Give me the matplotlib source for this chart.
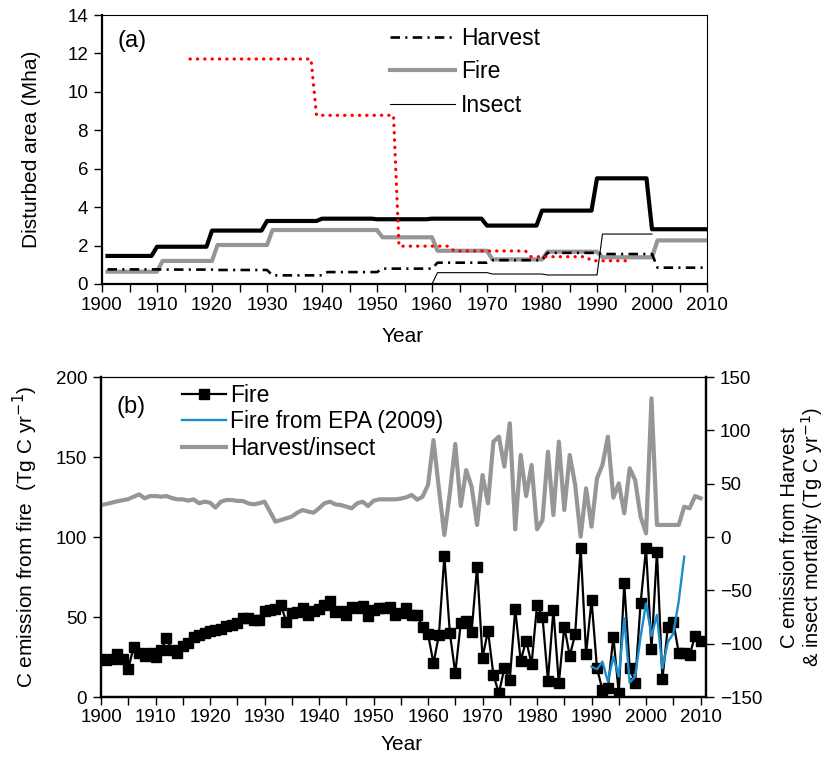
import matplotlib
matplotlib.use("Agg")
import matplotlib.pyplot as plt
import numpy as np
from matplotlib.ticker import MultipleLocator

plt.rcParams['font.family'] = ['Liberation Sans', 'DejaVu Sans']

# ---------------- panel (a): disturbed area (Mha), decadal steps ----------------
total_start = [1901, 1910, 1920, 1930, 1940, 1950, 1960, 1970, 1980, 1990, 2000]
total_area = [1.46, 1.94, 2.78, 3.28, 3.40, 3.37, 3.40, 3.04, 3.82, 5.50, 2.85]
dec_start = [1901, 1911, 1921, 1931, 1941, 1951, 1961, 1971, 1981, 1991, 2001]
fire_area = [0.64, 1.20, 2.03, 2.81, 2.81, 2.43, 1.73, 1.28, 1.68, 1.39, 2.27]
harvest_area = [0.76, 0.75, 0.73, 0.45, 0.62, 0.80, 1.11, 1.24, 1.62, 1.56, 0.85]
insect_start = [1960, 1961, 1971, 1981, 1991]
insect_area = [0.0, 0.59, 0.52, 0.47, 2.60]
ref_start = [1916, 1939, 1954, 1964, 1978, 1989]
ref_area = [11.71, 8.78, 1.97, 1.72, 1.42, 1.21]

# ---------------- panel (b): annual C emission ----------------
years_b = np.arange(1900, 2011)
fire_c = [23.5, 23.1, 23.5, 26.9, 23.5, 17.6, 31.4, 27.3, 25.8, 27.3,
          24.8, 29.4, 36.7, 29.4, 27.3, 31.9, 33.5, 37.3, 38.8, 40.2,
          41.3, 41.9, 42.3, 44.4, 45.2, 46.0, 49.6, 49.2, 48.1, 48.1,
          54.0, 54.4, 54.8, 57.5, 47.1, 52.3, 52.9, 55.4, 51.3, 54.0,
          54.8, 57.5, 60.0, 53.3, 53.8, 51.5, 56.4, 55.5, 56.9, 50.6,
          54.4, 55.4, 55.8, 56.5, 51.3, 52.3, 55.8, 51.3, 51.3, 44.0,
          39.4, 21.0, 38.8, 88.1, 40.2, 14.8, 46.1, 47.7, 40.8, 81.5,
          24.6, 41.5, 13.8, 2.3, 17.9, 10.6, 54.8, 22.7, 35.2, 20.6,
          57.5, 50.2, 10.2, 54.4, 8.5, 44.0, 25.6, 39.4, 93.4, 27.0,
          60.6, 18.0, 4.4, 5.4, 37.7, 2.3, 71.0, 17.9, 9.0, 58.6,
          92.9, 29.8, 90.8, 11.0, 43.8, 47.0, 27.6, 27.6, 26.2, 38.3,
          35.2]
harv_insect_c = [30.0, 31.0, 32.2, 33.5, 34.5, 35.5, 37.8, 40.0, 36.3, 38.4,
                 38.4, 37.8, 38.4, 36.5, 35.3, 35.3, 34.1, 35.3, 31.6, 33.1,
                 32.2, 27.5, 33.1, 34.7, 34.7, 33.8, 33.8, 31.6, 30.6, 31.6,
                 33.1, 23.8, 14.4, 15.9, 17.5, 19.1, 22.8, 25.3, 23.8, 22.8,
                 26.9, 31.6, 33.1, 30.6, 30.0, 28.5, 26.9, 31.6, 33.1, 29.0,
                 34.0, 35.3, 35.3, 35.3, 35.3, 36.0, 37.2, 39.4, 35.0, 37.8,
                 48.8, 90.9, 45.0, 1.9, 41.0, 87.2, 29.1, 62.8, 47.2, 11.3,
                 58.1, 31.6, 89.4, 94.1, 66.0, 106.6, 7.2, 76.9, 38.4, 67.5,
                 7.2, 15.9, 80.0, 20.6, 89.4, 25.3, 76.9, 48.8, 0.3, 45.6,
                 9.7, 55.0, 67.5, 94.1, 36.9, 50.3, 22.2, 64.4, 53.4, 19.1,
                 3.4, 130.0, 11.3, 11.3, 11.3, 11.3, 11.3, 28.4, 26.9, 38.4,
                 36.3]
epa_years = np.arange(1990, 2008)
epa_fire = [19.0, 17.3, 22.1, 9.6, 25.2, 12.7, 49.2, 8.9, 12.7, 37.7,
            58.5, 38.1, 51.3, 17.9, 34.4, 39.6, 60.0, 87.7]


def steps(starts, vals, end):
    counts = np.diff(list(starts) + [end + 1])
    return np.arange(starts[0], end + 1), np.repeat(vals, counts)


gray = '#969696'
fig = plt.figure(figsize=(8.32, 7.61), dpi=100)

# ---------- (a) ----------
ax = fig.add_axes([102 / 832, 1 - 284 / 761, 605 / 832, 269 / 761])
x, y = steps(total_start, total_area, 2010)
ax.plot(x, y, color='black', lw=3.0, solid_joinstyle='round')
x, y = steps(dec_start, fire_area, 2010)
ax.plot(x, y, color=gray, lw=3.0, label='Fire')
x, y = steps(dec_start, harvest_area, 2010)
ax.plot(x, y, color='black', lw=1.9, linestyle=(0, (3.6, 2.0, 0.8, 2.0)), label='Harvest')
x, y = steps(insect_start, insect_area, 2000)
ax.plot(x, y, color='black', lw=0.8, label='Insect')
x, y = steps(ref_start, ref_area, 1996)
ax.plot(x, y, color='red', lw=2.3, linestyle=(0, (0.1, 2.2)), dash_capstyle='round')

ax.set_xlim(1900, 2010)
ax.set_ylim(0, 14)
ax.xaxis.set_major_locator(MultipleLocator(10))
ax.xaxis.set_minor_locator(MultipleLocator(5))
ax.yaxis.set_major_locator(MultipleLocator(2))
ax.tick_params(axis='both', which='both', direction='out', length=6, width=1,
               labelsize=13.5, top=False, right=False)
ax.tick_params(axis='x', pad=3)
ax.tick_params(axis='y', pad=4)
for s in ['left', 'bottom']:
    ax.spines[s].set_linewidth(1.6)
for s in ['top', 'right']:
    ax.spines[s].set_linewidth(0.8)
ax.set_xlabel('Year', fontsize=15)
ax.set_ylabel('Disturbed area (Mha)', fontsize=15)
ax.xaxis.set_label_coords(0.497, -0.16)
ax.yaxis.set_label_coords(-0.1, 0.5)
ax.text(0.026, 0.905, '(a)', transform=ax.transAxes, fontsize=17, va='center')
h, l = ax.get_legend_handles_labels()
order = [1, 0, 2]
ax.legend([h[i] for i in order], [l[i] for i in order], loc='upper left',
          bbox_to_anchor=(0.476, 0.955), frameon=False, fontsize=16.5,
          handlelength=2.85, handletextpad=0.25, labelspacing=0.45,
          borderpad=0, borderaxespad=0)

# ---------- (b) ----------
axb = fig.add_axes([101 / 832, 1 - 697 / 761, 605 / 832, 320 / 761])
axr = axb.twinx()
l1, = axb.plot(years_b, fire_c, color='black', lw=1.6, marker='s', ms=6.5, label='Fire')
l2, = axb.plot(epa_years, epa_fire, color='#1b8ccc', lw=1.7, label='Fire from EPA (2009)')
l3, = axr.plot(years_b, harv_insect_c, color=gray, lw=3.0, label='Harvest/insect')

axb.set_xlim(1900, 2011)
axb.set_ylim(0, 200)
axr.set_ylim(-150, 150)
axb.xaxis.set_major_locator(MultipleLocator(10))
axb.xaxis.set_minor_locator(MultipleLocator(5))
axb.yaxis.set_major_locator(MultipleLocator(50))
axr.yaxis.set_major_locator(MultipleLocator(50))
axb.tick_params(axis='both', which='both', direction='out', length=6, width=1,
                labelsize=13.5)
axb.tick_params(axis='x', pad=3)
axb.tick_params(axis='y', pad=4)
axr.tick_params(axis='y', direction='out', length=6, width=1, labelsize=13.5, pad=4)
for a in (axb, axr):
    for s in ['left', 'bottom', 'right']:
        a.spines[s].set_linewidth(1.6)
    a.spines['top'].set_linewidth(0.8)
axb.set_xlabel('Year', fontsize=15)
axb.set_ylabel('C emission from fire  (Tg C yr$^{-1}$)', fontsize=15)
axr.set_ylabel('C emission from Harvest\n& insect mortality (Tg C yr$^{-1}$)',
               fontsize=14.5, linespacing=1.0)
axb.xaxis.set_label_coords(0.497, -0.12)
axb.yaxis.set_label_coords(-0.1, 0.5)
axr.yaxis.set_label_coords(1.122, 0.5)
axb.text(0.026, 0.905, '(b)', transform=axb.transAxes, fontsize=17, va='center')
axr.legend([l1, l2, l3], [l1.get_label(), l2.get_label(), l3.get_label()],
           loc='upper left', bbox_to_anchor=(0.134, 0.978), frameon=False,
           fontsize=16.5, handlelength=1.9, handletextpad=0.18, labelspacing=0.15,
           borderpad=0, borderaxespad=0, numpoints=1)

fig.savefig('out.png', dpi=100)
